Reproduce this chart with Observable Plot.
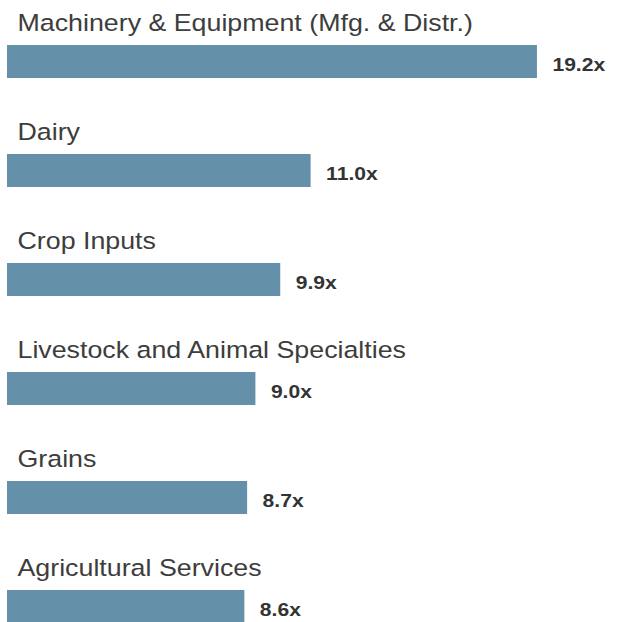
<!DOCTYPE html>
<html>
<head>
<meta charset="utf-8">
<script src="https://cdn.jsdelivr.net/npm/d3@7"></script>
<script src="https://cdn.jsdelivr.net/npm/@observablehq/plot@0.6"></script>
<style>
  html, body { margin: 0; padding: 0; background: #fff; }
  #chart svg { display: block; }
</style>
</head>
<body>
<div id="chart"></div>
<script>
const categories = [
  "Machinery & Equipment (Mfg. & Distr.)",
  "Dairy",
  "Crop Inputs",
  "Livestock and Animal Specialties",
  "Grains",
  "Agricultural Services"
];
const multiples = [19.2, 11.0, 9.9, 9.0, 8.7, 8.6];

const data = categories.map((c, i) => ({category: c, value: multiples[i], label: multiples[i].toFixed(1) + "x"}));

const chart = Plot.plot({
  width: 619,
  height: 622,
  marginTop: 0, marginRight: 0, marginBottom: 0, marginLeft: 0,
  style: {background: "#fff", fontFamily: "'Liberation Sans', Arial, Helvetica, sans-serif"},
  x: {domain: [0, 20], range: [7, 559], axis: null},
  y: {domain: categories, range: [45, 625.5], paddingInner: 0.694, paddingOuter: 0, align: 0, axis: null},
  marks: [
    Plot.barX(data, {x: "value", y: "category", fill: "#6490aa"}),
    Plot.text(data, {
      x: 0, y: "category", text: "category",
      textAnchor: "start", dx: 10, dy: -39,
      fontSize: 23.5, fill: "#3d3d3d", className: "cat-label"
    }),
    Plot.text(data, {
      x: "value", y: "category", text: "label",
      textAnchor: "start", dx: 15, dy: 3,
      fontSize: 18.5, fontWeight: "bold", fill: "#333333", className: "val-label"
    })
  ]
});

// horizontally widen glyphs to match the reference's wider lettering
chart.querySelectorAll(".cat-label text").forEach(t => {
  t.setAttribute("transform", (t.getAttribute("transform") || "") + " scale(1.14,1)");
});
chart.querySelectorAll(".val-label text").forEach(t => {
  t.setAttribute("transform", (t.getAttribute("transform") || "") + " scale(1.14,1)");
});

document.getElementById("chart").appendChild(chart);
</script>
</body>
</html>
